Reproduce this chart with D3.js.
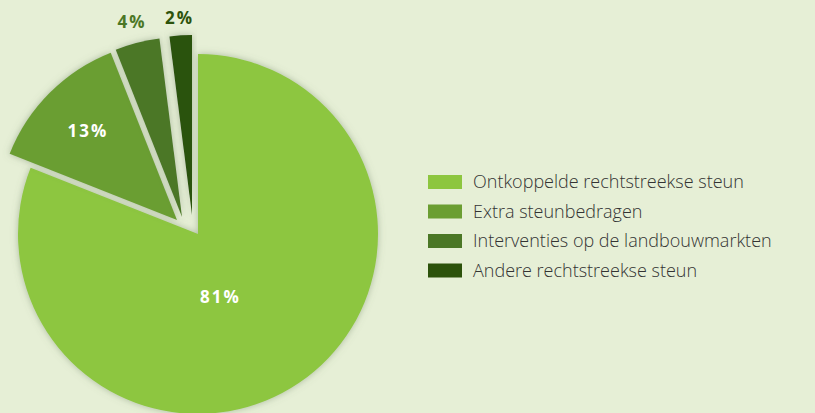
<!DOCTYPE html>
<html>
<head>
<meta charset="utf-8">
<script src="https://cdn.jsdelivr.net/npm/d3@7"></script>
<style>
  html, body { margin: 0; padding: 0; background: #e6efd6; }
  svg { display: block; }
</style>
</head>
<body>
<div id="chart"></div>
<script>
const categories = ["Ontkoppelde rechtstreekse steun", "Extra steunbedragen",
  "Interventies op de landbouwmarkten", "Andere rechtstreekse steun"];
const values = [81, 13, 4, 2];
const labels = ["81%", "13%", "4%", "2%"];

const width = 815, height = 413;
const cx = 198, cy = 234, radius = 180;

const colors = ["#8dc63f", "#6b9e32", "#4b7726", "#2c520b"];
// exploded offsets of the small slices
const offsets = [[0, 0], [-21, -14], [-16, -17], [-6, -19]];
// where each label sits, as a distance from the slice tip
const labelRadius = [radius * 0.72 / 2, radius * 0.7, radius + 21, radius + 17];
const labelNudge = [[-14, 9], [0, 0], [0, 0], [0, 0]];
const labelColors = ["#ffffff", "#ffffff", "#4b7726", "#2c520b"];

const svg = d3.select("#chart")
  .append("svg")
  .attr("width", width)
  .attr("height", height);

svg.append("rect")
  .attr("width", width)
  .attr("height", height)
  .attr("fill", "#e6efd6");

const defs = svg.append("defs");
const shadow = defs.append("filter")
  .attr("id", "shadow")
  .attr("x", "-20%").attr("y", "-20%")
  .attr("width", "140%").attr("height", "140%");
shadow.append("feDropShadow")
  .attr("dx", 0).attr("dy", 0)
  .attr("stdDeviation", 3.5)
  .attr("flood-color", "#6f8466")
  .attr("flood-opacity", 0.5);

const pie = d3.pie().sort(null).value(d => d);
const arcs = pie(values);
const arc = d3.arc().innerRadius(0).outerRadius(radius);

const g = svg.append("g").attr("transform", `translate(${cx},${cy})`);

g.selectAll("path")
  .data(arcs)
  .join("path")
  .attr("d", arc)
  .attr("fill", (d, i) => colors[i])
  .attr("filter", "url(#shadow)")
  .attr("transform", (d, i) => `translate(${offsets[i][0]},${offsets[i][1]})`);

g.selectAll("text")
  .data(arcs)
  .join("text")
  .attr("transform", (d, i) => {
    const p = d3.arc().innerRadius(labelRadius[i]).outerRadius(labelRadius[i]).centroid(d);
    return `translate(${p[0] + offsets[i][0] + labelNudge[i][0]},${p[1] + offsets[i][1] + labelNudge[i][1]})`;
  })
  .attr("text-anchor", "middle")
  .attr("dy", "0.35em")
  .attr("fill", (d, i) => labelColors[i])
  .style("font-family", "'Open Sans', 'DejaVu Sans', sans-serif")
  .style("font-weight", 700)
  .style("font-size", "17px")
  .style("letter-spacing", "2px")
  .text((d, i) => labels[i]);

// legend
const legend = svg.append("g").attr("transform", "translate(428,175)");
const row = legend.selectAll("g")
  .data(categories)
  .join("g")
  .attr("transform", (d, i) => `translate(0,${i * 29.5})`);

row.append("rect")
  .attr("width", 34)
  .attr("height", 14)
  .attr("fill", (d, i) => colors[i]);

row.append("text")
  .attr("x", 45)
  .attr("y", 7)
  .attr("dy", "0.35em")
  .attr("fill", "#333333")
  .style("font-family", "'Open Sans', sans-serif")
  .style("font-weight", 300)
  .style("font-size", "18px")
  .text(d => d);
</script>
</body>
</html>
